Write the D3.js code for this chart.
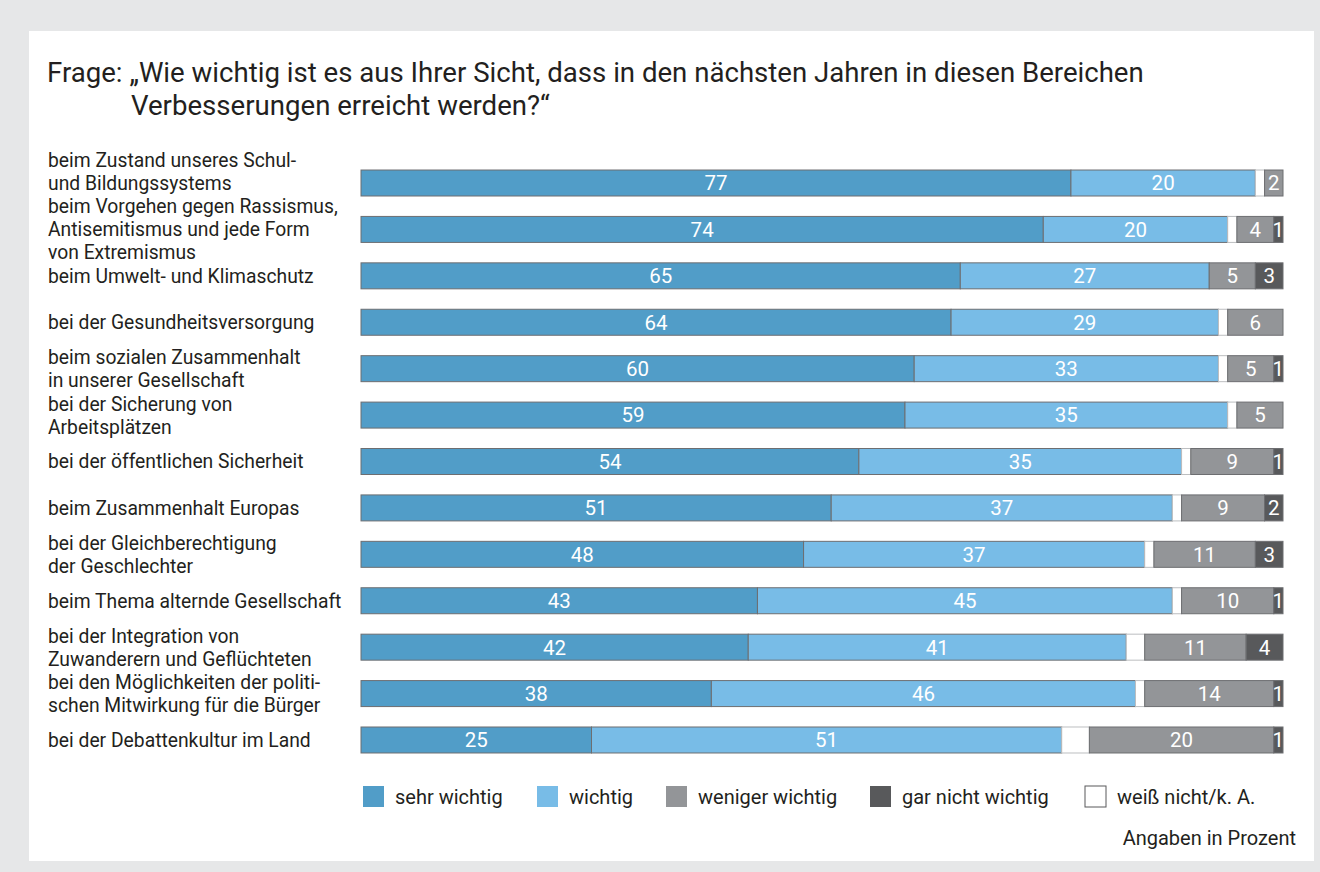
<!DOCTYPE html>
<html>
<head>
<meta charset="utf-8">
<script src="https://cdn.jsdelivr.net/npm/d3@7"></script>
<style>
  html, body { margin: 0; padding: 0; background: #e6e7e8; }
  svg { display: block; font-family: Roboto, "Noto Sans", sans-serif; }
</style>
</head>
<body>
<svg id="chart" width="1320" height="872"></svg>
<script>
// Topics (line breaks as set in the labels)
const categories = [
  ["beim Zustand unseres Schul-", "und Bildungssystems"],
  ["beim Vorgehen gegen Rassismus,", "Antisemitismus und jede Form", "von Extremismus"],
  ["beim Umwelt- und Klimaschutz"],
  ["bei der Gesundheitsversorgung"],
  ["beim sozialen Zusammenhalt", "in unserer Gesellschaft"],
  ["bei der Sicherung von", "Arbeitsplätzen"],
  ["bei der öffentlichen Sicherheit"],
  ["beim Zusammenhalt Europas"],
  ["bei der Gleichberechtigung", "der Geschlechter"],
  ["beim Thema alternde Gesellschaft"],
  ["bei der Integration von", "Zuwanderern und Geflüchteten"],
  ["bei den Möglichkeiten der politi-", "schen Mitwirkung für die Bürger"],
  ["bei der Debattenkultur im Land"]
];

// Shares in percent
const sehrWichtig    = [77, 74, 65, 64, 60, 59, 54, 51, 48, 43, 42, 38, 25];
const wichtig        = [20, 20, 27, 29, 33, 35, 35, 37, 37, 45, 41, 46, 51];
const weissNicht     = [ 1,  1,  0,  1,  1,  1,  1,  1,  1,  1,  2,  1,  3];
const wenigerWichtig = [ 2,  4,  5,  6,  5,  5,  9,  9, 11, 10, 11, 14, 20];
const garNicht       = [ 0,  1,  3,  0,  1,  0,  1,  2,  3,  1,  4,  1,  1];

const seriesKeys   = ["sehr", "wichtig", "wn", "weniger", "gar"];
const seriesValues = [sehrWichtig, wichtig, weissNicht, wenigerWichtig, garNicht];
const seriesColors = ["#519dc8", "#78bce7", "#ffffff", "#939598", "#58595b"];
const seriesLabeled = [true, true, false, true, true];

const legendItems = [
  { label: "sehr wichtig", color: "#519dc8" },
  { label: "wichtig", color: "#78bce7" },
  { label: "weniger wichtig", color: "#939598" },
  { label: "gar nicht wichtig", color: "#58595b" },
  { label: "weiß nicht/k. A.", color: "#ffffff" }
];

const svg = d3.select("#chart");

// White card on grey backdrop
svg.append("rect").attr("x", 0).attr("y", 0).attr("width", 1320).attr("height", 872).attr("fill", "#e6e7e8");
svg.append("rect").attr("x", 29).attr("y", 31).attr("width", 1285).attr("height", 830).attr("fill", "#ffffff");

// Title
const title = svg.append("text").attr("fill", "#231f20").style("font-size", "27.6px");
title.append("tspan").attr("x", 47).attr("y", 82)
  .text("Frage: „Wie wichtig ist es aus Ihrer Sicht, dass in den nächsten Jahren in diesen Bereichen");
title.append("tspan").attr("x", 131).attr("y", 115)
  .text("Verbesserungen erreicht werden?“");

// Scales
const idx = d3.range(categories.length);
const x = d3.scaleLinear().domain([0, 100]).range([361, 1283]);
const y = d3.scaleBand().domain(idx).range([159.8, 763.2]).paddingInner(0.44).paddingOuter(0.22);

// Stack
const rows = idx.map(i => {
  const r = { i };
  seriesKeys.forEach((k, s) => r[k] = seriesValues[s][i]);
  return r;
});
const stacked = d3.stack().keys(seriesKeys)(rows);

const g = svg.append("g");
stacked.forEach((layer, s) => {
  const lg = g.append("g");
  lg.selectAll("rect").data(layer.filter(d => d[1] - d[0] > 0)).join("rect")
    .attr("x", d => x(d[0]))
    .attr("y", d => y(d.data.i))
    .attr("width", d => x(d[1]) - x(d[0]))
    .attr("height", y.bandwidth())
    .attr("fill", seriesColors[s])
    .attr("stroke", seriesKeys[s] === "wn" ? "#bcbec0" : "#6d6e71")
    .attr("stroke-width", 1);
  if (seriesLabeled[s]) {
    lg.selectAll("text").data(layer.filter(d => d[1] - d[0] > 0)).join("text")
      .attr("x", d => (x(d[0]) + x(d[1])) / 2)
      .attr("y", d => y(d.data.i) + y.bandwidth() / 2)
      .attr("dy", "0.36em")
      .attr("text-anchor", "middle")
      .attr("fill", "#ffffff")
      .style("font-size", "20.5px")
      .text(d => d[1] - d[0]);
  }
});

// Category labels: centred on the bar, pushed upward when a block would run into the next one
const lineH = 23;
const firstLine = idx.map(i => y(i) + y.bandwidth() / 2 - (categories[i].length - 1) / 2 * lineH);
for (let i = idx.length - 2; i >= 0; i--) {
  const last = firstLine[i] + (categories[i].length - 1) * lineH;
  const limit = firstLine[i + 1] - lineH;
  if (last > limit) firstLine[i] -= (last - limit);
}
const labels = svg.append("g").attr("fill", "#231f20").style("font-size", "19.3px");
categories.forEach((lines, i) => {
  const t = labels.append("text");
  lines.forEach((ln, j) => {
    t.append("tspan").attr("x", 48)
      .attr("y", firstLine[i] + j * lineH)
      .attr("dy", "0.36em")
      .text(ln);
  });
});

// Legend
const legendX = [363, 537, 666, 870, 1085];
const lg = svg.append("g").style("font-size", "20px").attr("fill", "#231f20");
legendItems.forEach((d, i) => {
  lg.append("rect").attr("x", legendX[i]).attr("y", 786).attr("width", 21).attr("height", 21)
    .attr("fill", d.color)
    .attr("stroke", d.color === "#ffffff" ? "#58595b" : "none")
    .attr("stroke-width", 1);
  lg.append("text").attr("x", legendX[i] + 32).attr("y", 797).attr("dy", "0.36em").text(d.label);
});

svg.append("text").attr("x", 1296).attr("y", 838).attr("dy", "0.36em").attr("text-anchor", "end")
  .attr("fill", "#231f20").style("font-size", "20px").text("Angaben in Prozent");
</script>
</body>
</html>
